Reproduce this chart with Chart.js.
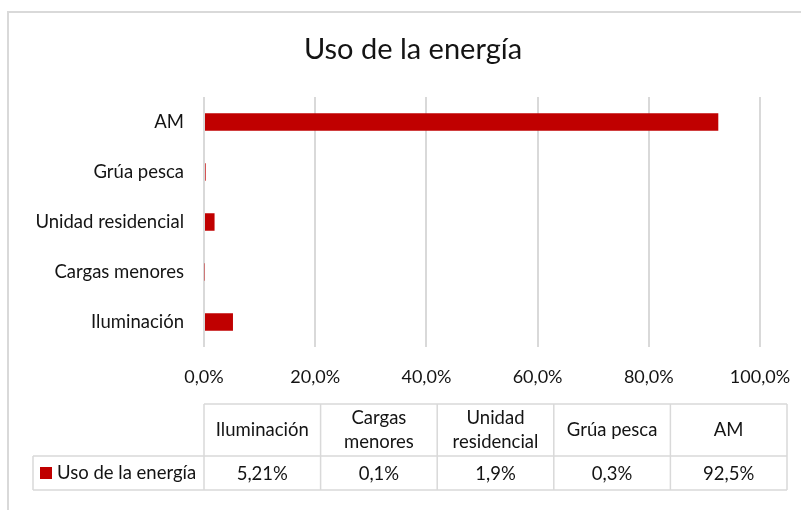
<!DOCTYPE html>
<html>
<head>
<meta charset="utf-8">
<script src="https://cdn.jsdelivr.net/npm/chart.js@4"></script>
<style>
html,body{margin:0;padding:0;background:#fff;}
#wrap{position:relative;width:801px;height:510px;}
</style>
</head>
<body>
<div id="wrap"><canvas id="c" width="801" height="510"></canvas></div>
<script>
const title = 'Uso de la energía';
const seriesName = 'Uso de la energía';
const categories = ['Iluminación', 'Cargas menores', 'Unidad residencial', 'Grúa pesca', 'AM'];
const values = [5.21, 0.1, 1.9, 0.3, 92.5];
const xTicks = [0, 20, 40, 60, 80, 100];

const FONT = 'Lato, "Open Sans", sans-serif';
const TXT = '#141414';
const GRID = '#d9d9d9';
const BAR = '#c00000';

const fmtPct = v => String(v).replace('.', ',') + '%';

const framePlugin = {
  id: 'frame',
  beforeDraw(chart) {
    const ctx = chart.ctx;
    ctx.save();
    ctx.fillStyle = '#fff';
    ctx.fillRect(0, 0, chart.width, chart.height);
    ctx.strokeStyle = GRID;
    ctx.lineWidth = 2;
    ctx.beginPath();
    ctx.moveTo(8, chart.height);
    ctx.lineTo(8, 12);
    ctx.lineTo(chart.width, 12);
    ctx.stroke();
    ctx.fillStyle = TXT;
    ctx.font = '29px ' + FONT;
    ctx.textAlign = 'center';
    ctx.textBaseline = 'middle';
    ctx.fillText(title, 413, 50);
    ctx.restore();
  }
};

const tablePlugin = {
  id: 'dataTable',
  afterDraw(chart) {
    const ctx = chart.ctx;
    const area = chart.chartArea;
    const left = area.left;
    const right = 787;
    const legendLeft = 33;
    const top = 404, mid = 456, bottom = 490;
    const n = categories.length;
    const cw = (right - left) / n;
    ctx.save();
    ctx.strokeStyle = GRID;
    ctx.lineWidth = 1.5;
    ctx.beginPath();
    ctx.moveTo(left, top); ctx.lineTo(right, top);
    ctx.moveTo(legendLeft, mid); ctx.lineTo(right, mid);
    ctx.moveTo(legendLeft, bottom); ctx.lineTo(right, bottom);
    ctx.moveTo(legendLeft, mid); ctx.lineTo(legendLeft, bottom);
    for (let i = 0; i <= n; i++) {
      const x = left + i * cw;
      ctx.moveTo(x, top); ctx.lineTo(x, bottom);
    }
    ctx.stroke();

    ctx.fillStyle = TXT;
    ctx.font = '18.5px ' + FONT;
    ctx.textAlign = 'center';
    ctx.textBaseline = 'middle';
    categories.forEach((cat, i) => {
      const cx = left + (i + 0.5) * cw;
      let lines = [cat];
      if (ctx.measureText(cat).width > cw - 8 && cat.includes(' ')) {
        const k = cat.indexOf(' ');
        lines = [cat.slice(0, k), cat.slice(k + 1)];
      }
      const lh = 24;
      const cy = (top + mid) / 2;
      lines.forEach((ln, j) => {
        ctx.fillText(ln, cx, cy + (j - (lines.length - 1) / 2) * lh);
      });
      ctx.fillText(fmtPct(values[i]), cx, (mid + bottom) / 2 + 1);
    });
    const ly = (mid + bottom) / 2;
    ctx.fillStyle = BAR;
    ctx.fillRect(40, ly - 6, 12, 12);
    ctx.fillStyle = TXT;
    ctx.textAlign = 'left';
    ctx.fillText(seriesName, 57, ly);
    ctx.restore();
  }
};

new Chart(document.getElementById('c'), {
  type: 'bar',
  data: {
    labels: categories,
    datasets: [{
      label: seriesName,
      data: values,
      backgroundColor: BAR,
      borderWidth: 0,
      barPercentage: 0.7,
      categoryPercentage: 0.5
    }]
  },
  options: {
    indexAxis: 'y',
    responsive: false,
    animation: false,
    devicePixelRatio: 1,
    layout: { padding: { top: 97, left: 0, right: 41, bottom: 0 } },
    plugins: {
      legend: { display: false },
      tooltip: { enabled: false },
      title: { display: false }
    },
    scales: {
      x: {
        min: 0, max: 100,
        afterBuildTicks(scale) { scale.ticks = xTicks.map(v => ({ value: v })); },
        afterFit(scale) {
          scale.height = 510 - 347;
          scale.paddingRight = 0;
          scale.paddingLeft = 0;
        },
        grid: { color: GRID, lineWidth: 2, drawTicks: false },
        border: { display: false },
        ticks: {
          color: TXT,
          padding: 19,
          font: { family: FONT, size: 18 },
          callback: v => Number(v).toFixed(1).replace('.', ',') + '%'
        }
      },
      y: {
        reverse: true,
        afterFit(scale) { scale.width = 204; },
        grid: { display: false, drawTicks: false },
        border: { display: false },
        ticks: {
          color: TXT,
          padding: 20,
          font: { family: FONT, size: 18.5 }
        }
      }
    }
  },
  plugins: [framePlugin, tablePlugin]
});
</script>
</body>
</html>
